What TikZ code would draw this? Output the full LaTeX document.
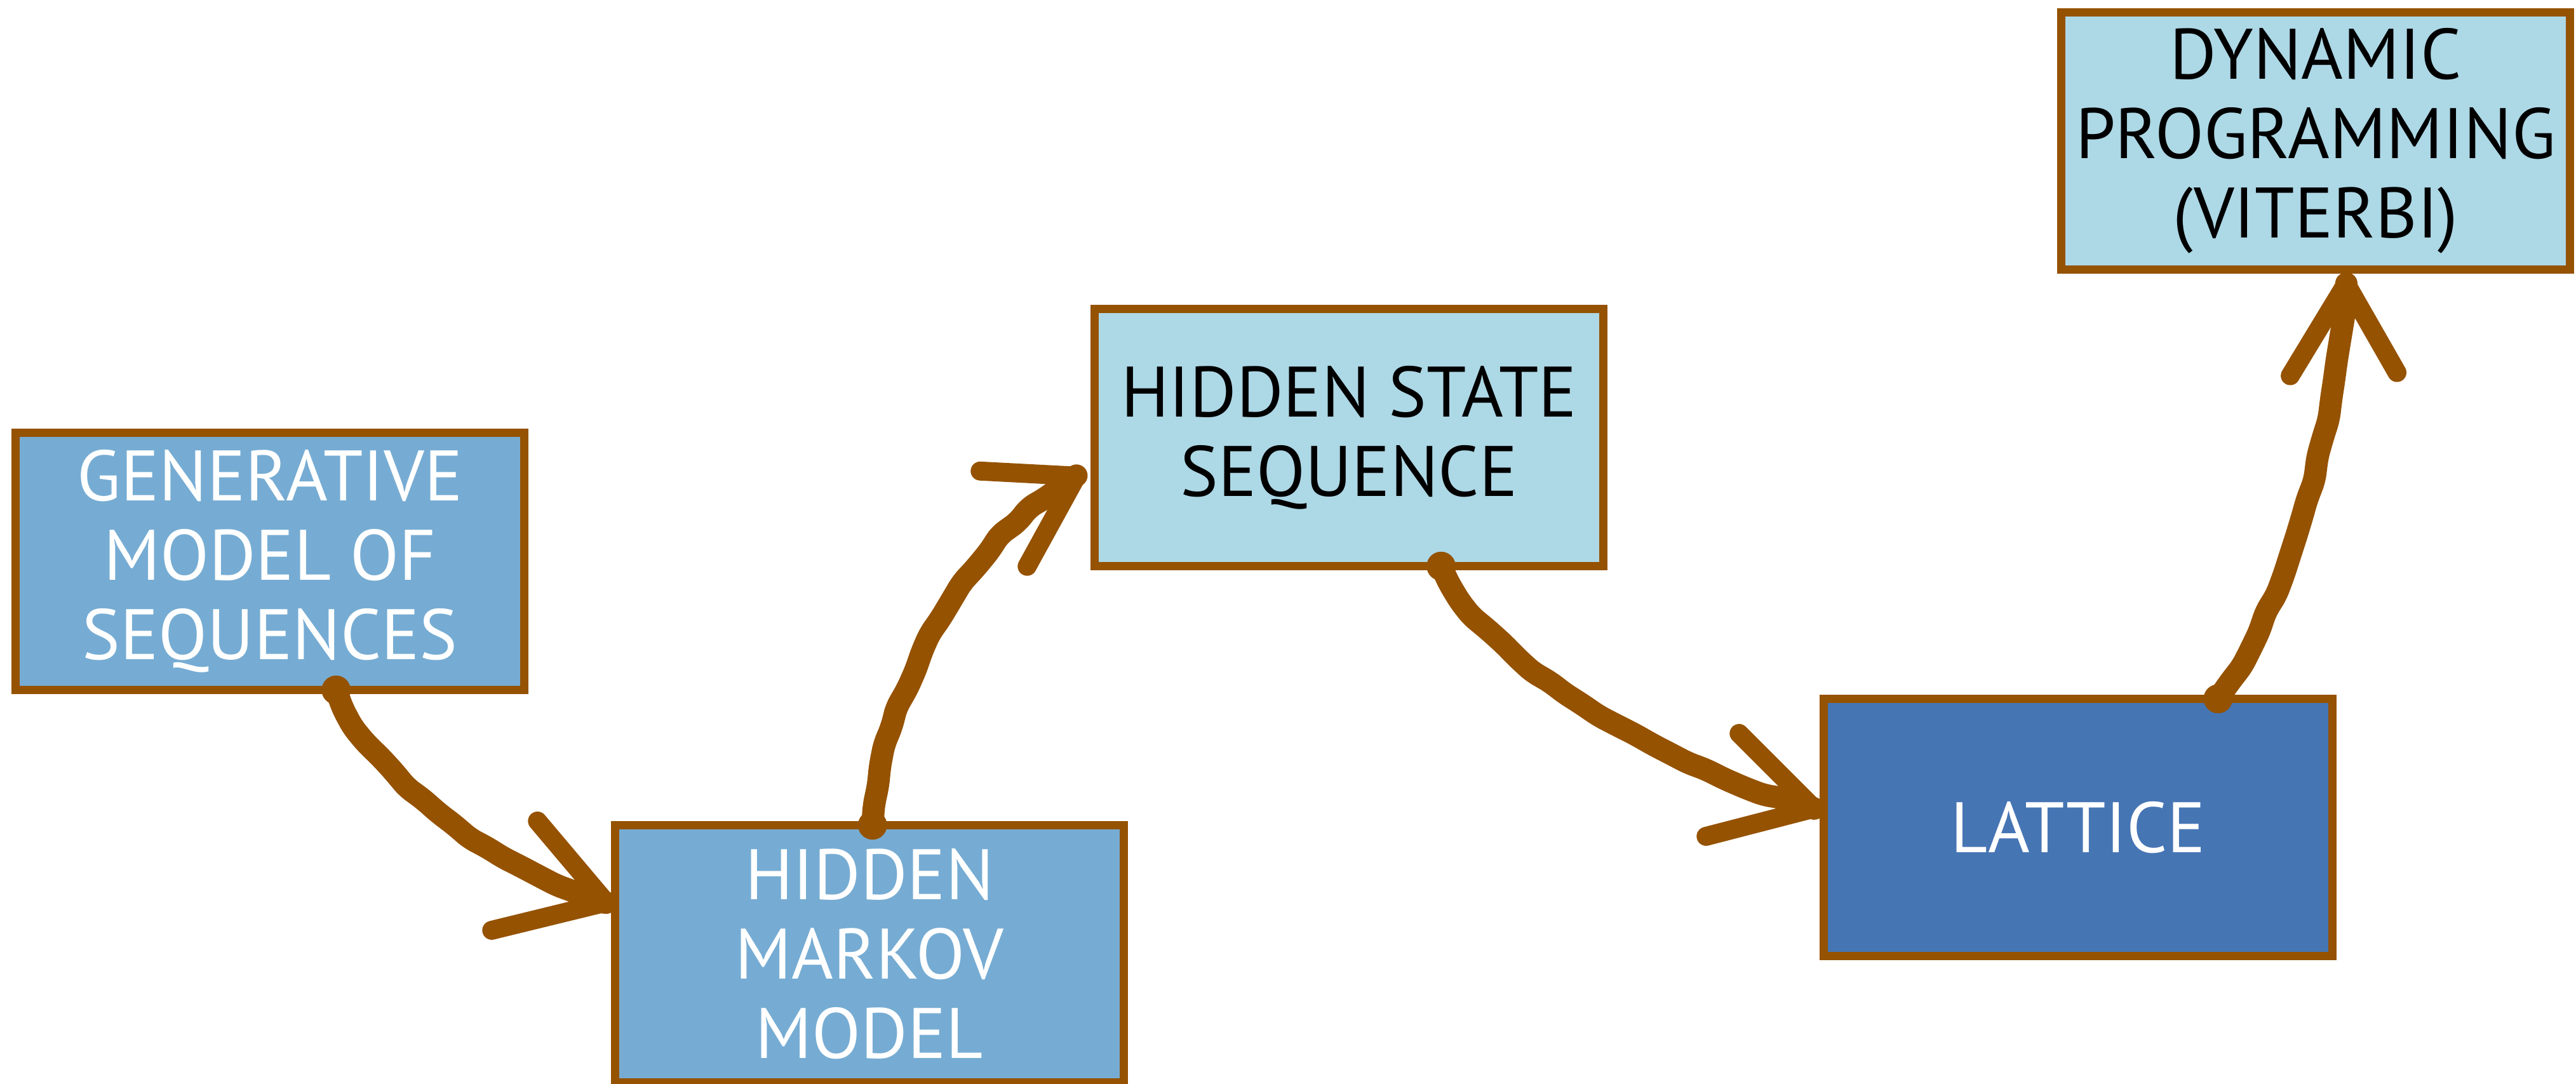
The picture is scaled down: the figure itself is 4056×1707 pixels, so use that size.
\documentclass[tikz,border=0pt]{standalone}
\usepackage{fontspec}
\setmainfont{PT Sans}
\usetikzlibrary{calc,decorations.pathmorphing}

\definecolor{framebrown}{RGB}{149,82,0}
\definecolor{midblue}{RGB}{118,172,211}
\definecolor{paleblue}{RGB}{173,216,230}
\definecolor{deepblue}{RGB}{70,117,180}

\begin{document}
\begin{tikzpicture}[x=0.01cm,y=-0.01cm,
  card/.style={rectangle, draw=framebrown, line width=3.7pt,
    minimum width=8.01cm, minimum height=4.05cm,
    inner sep=0pt, outer sep=0pt, align=center,
    font=\fontsize{32}{35.5}\selectfont},
  wire/.style={draw=framebrown, line width=10pt, line cap=round, line join=round,
    decorate, decoration={random steps, segment length=9pt, amplitude=0.9pt},
    rounded corners=3pt},
  barb/.style={draw=framebrown, line width=8.5pt, line cap=round},
  blob/.style={fill=framebrown}
]
\pgfmathsetseed{7}
\useasboundingbox (0,0) rectangle (4056,1707);

% boxes
\node[card, fill=midblue, text=white] (gen) at (425,884) {GENERATIVE\\MODEL OF\\SEQUENCES};
\node[card, fill=midblue, text=white] (hmm) at (1369,1502) {HIDDEN\\MARKOV\\MODEL};
\node[card, fill=paleblue, text=black] (hss) at (2124,689) {HIDDEN STATE\\SEQUENCE};
\node[card, fill=deepblue, text=white] (lat) at (3272,1303) {LATTICE};
\node[card, fill=paleblue, text=black] (dyn) at (3646,222) {DYNAMIC\\PROGRAMMING\\(VITERBI)};

% connector end points on the box borders
\coordinate (s1) at ($(gen.south west)!0.63!(gen.south east)$);
\coordinate (t1) at ($(hmm.north west)!0.3!(hmm.south west)+(-14,0)$);
\coordinate (s2) at ($(hmm.north west)!0.506!(hmm.north east)$);
\coordinate (t2) at ($(hss.north west)!0.65!(hss.south west)+(-28,0)$);
\coordinate (s3) at ($(hss.south west)!0.681!(hss.south east)$);
\coordinate (t3) at ($(lat.north west)!0.426!(lat.south west)+(-15,0)$);
\coordinate (s4) at ($(lat.north west)!0.775!(lat.north east)$);
\coordinate (t4) at ($(dyn.south west)!0.56!(dyn.south east)+(0,22)$);

% shafts
\draw[wire] (s1) .. controls +(45,133) and +(-137,-28) .. (t1);
\draw[wire] (s2) .. controls +(11,-199) and +(-167,90) .. (t2);
\draw[wire] (s3) .. controls +(51,141) and +(-219,-58) .. (t3);
\draw[wire] (s4) .. controls +(88,-115) and +(-14,255) .. (t4);

% start blobs
\foreach \p in {s1,s2,s3,s4} \fill[blob] (\p) circle[radius=6.5pt];

% arrow heads
\draw[barb] (t1) -- +(-108,-128);
\draw[barb] (t1) -- +(-180,44);
\draw[barb] (t2) -- +(-152,-8);
\draw[barb] (t2) -- +(-78,142);
\draw[barb] (t3) -- +(-118,-118);
\draw[barb] (t3) -- +(-170,44);
\draw[barb] (t4) -- +(-88,145);
\draw[barb] (t4) -- +(80,140);
\end{tikzpicture}
\end{document}
